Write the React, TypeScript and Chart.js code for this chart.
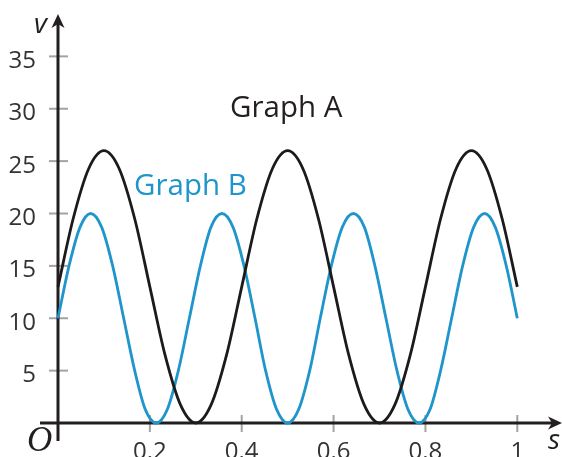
import React, { useEffect, useRef } from "react";
import { Chart, registerables } from "chart.js";

Chart.register(...registerables);

// Graph A readings (s, v)
const sA = [0, 0.033, 0.067, 0.1, 0.133, 0.167, 0.2, 0.233, 0.267, 0.3, 0.333, 0.367, 0.4, 0.433, 0.467, 0.5, 0.533, 0.567, 0.6, 0.633, 0.667, 0.7, 0.733, 0.767, 0.8, 0.833, 0.867, 0.9, 0.933, 0.967, 1];
const vA = [13, 19.5, 24.3, 26, 24.3, 19.5, 13, 6.5, 1.7, 0, 1.7, 6.5, 13, 19.5, 24.3, 26, 24.3, 19.5, 13, 6.5, 1.7, 0, 1.7, 6.5, 13, 19.5, 24.3, 26, 24.3, 19.5, 13];

// Graph B readings (s, v)
const sB = [0, 0.024, 0.048, 0.071, 0.095, 0.119, 0.143, 0.167, 0.19, 0.214, 0.238, 0.262, 0.286, 0.31, 0.333, 0.357, 0.381, 0.405, 0.429, 0.452, 0.476, 0.5, 0.524, 0.548, 0.571, 0.595, 0.619, 0.643, 0.667, 0.69, 0.714, 0.738, 0.762, 0.786, 0.81, 0.833, 0.857, 0.881, 0.905, 0.929, 0.952, 0.976, 1];
const vB = [10, 15, 18.7, 20, 18.7, 15, 10, 5, 1.3, 0, 1.3, 5, 10, 15, 18.7, 20, 18.7, 15, 10, 5, 1.3, 0, 1.3, 5, 10, 15, 18.7, 20, 18.7, 15, 10, 5, 1.3, 0, 1.3, 5, 10, 15, 18.7, 20, 18.7, 15, 10];

const yTicks = [5, 10, 15, 20, 25, 30, 35];
const xTicks = [0.2, 0.4, 0.6, 0.8, 1];
const xTickLabels = ["0.2", "0.4", "0.6", "0.8", "1"];

const BLUE = "#1f95cb";
const DARK = "#231f20";

const axesPlugin = {
  id: "customAxes",
  beforeDatasetsDraw(chart: any) {
    const ctx = chart.ctx;
    const xs = chart.scales.x;
    const ys = chart.scales.y;
    const x0 = xs.getPixelForValue(0);
    const y0 = ys.getPixelForValue(0);
    ctx.save();
    // tick marks
    ctx.strokeStyle = "#a3a3a3";
    ctx.lineWidth = 2;
    yTicks.forEach((t) => {
      const y = ys.getPixelForValue(t);
      ctx.beginPath();
      ctx.moveTo(x0 - 9, y);
      ctx.lineTo(x0 + 10, y);
      ctx.stroke();
    });
    xTicks.forEach((t) => {
      const x = xs.getPixelForValue(t);
      ctx.beginPath();
      ctx.moveTo(x, y0 - 8);
      ctx.lineTo(x, y0 + 9);
      ctx.stroke();
    });
    // axes
    ctx.strokeStyle = DARK;
    ctx.fillStyle = DARK;
    ctx.lineWidth = 3;
    ctx.beginPath();
    ctx.moveTo(x0, y0 + 18);
    ctx.lineTo(x0, 22);
    ctx.stroke();
    ctx.beginPath();
    ctx.moveTo(x0 - 18, y0);
    ctx.lineTo(554, y0);
    ctx.stroke();
    // arrowheads
    ctx.beginPath();
    ctx.moveTo(x0, 14);
    ctx.lineTo(x0 - 6.5, 28);
    ctx.lineTo(x0, 24);
    ctx.lineTo(x0 + 6.5, 28);
    ctx.closePath();
    ctx.fill();
    ctx.beginPath();
    ctx.moveTo(562, y0);
    ctx.lineTo(548, y0 - 6.5);
    ctx.lineTo(552, y0);
    ctx.lineTo(548, y0 + 6.5);
    ctx.closePath();
    ctx.fill();

    // tick labels
    ctx.fillStyle = "#333333";
    ctx.font = "24px 'Open Sans'";
    ctx.textAlign = "right";
    ctx.textBaseline = "alphabetic";
    yTicks.forEach((t) => {
      const y = ys.getPixelForValue(t);
      ctx.fillText(String(t), x0 - 22, y + 11.5);
    });
    ctx.textAlign = "center";
    xTicks.forEach((t, i) => {
      const x = xs.getPixelForValue(t);
      ctx.fillText(xTickLabels[i], x, y0 + 36);
    });
    // axis names
    ctx.fillStyle = DARK;
    ctx.textAlign = "left";
    ctx.font = "italic 28px 'Open Sans'";
    ctx.fillText("v", 34, 33);
    ctx.fillText("s", 548, 449);
    ctx.font = "italic 35px 'Liberation Serif'";
    ctx.fillText("O", 27, 451);
    ctx.restore();
  },
  afterDraw(chart: any) {
    const ctx = chart.ctx;
    ctx.save();
    ctx.textAlign = "left";
    ctx.textBaseline = "alphabetic";
    ctx.font = "29.5px 'Open Sans'";
    ctx.fillStyle = DARK;
    ctx.fillText("Graph A", 230, 117);
    ctx.fillStyle = BLUE;
    ctx.fillText("Graph B", 134, 195);
    ctx.restore();
  },
};

export default function App() {
  const ref = useRef<HTMLCanvasElement | null>(null);
  useEffect(() => {
    if (!ref.current) return;
    const chart = new Chart(ref.current, {
      type: "line",
      data: {
        datasets: [
          {
            label: "Graph A",
            data: sA.map((s, i) => ({ x: s, y: vA[i] })),
            borderColor: "#1c1a1a",
            borderWidth: 2.8,
            pointRadius: 0,
            cubicInterpolationMode: "monotone",
            clip: false,
          } as any,
          {
            label: "Graph B",
            data: sB.map((s, i) => ({ x: s, y: vB[i] })),
            borderColor: BLUE,
            borderWidth: 2.8,
            pointRadius: 0,
            cubicInterpolationMode: "monotone",
            clip: false,
          } as any,
        ],
      },
      options: {
        animation: false,
        responsive: false,
        maintainAspectRatio: false,
        layout: { padding: { left: 58, right: 44.7, top: 4, bottom: 34 } },
        scales: {
          x: { type: "linear", min: 0, max: 1, display: false },
          y: { type: "linear", min: 0, max: 40, display: false },
        },
        plugins: { legend: { display: false }, tooltip: { enabled: false } },
      },
      plugins: [axesPlugin],
    });
    return () => chart.destroy();
  }, []);
  return (
    <div style={{ position: "fixed", left: 0, top: 0, width: 562, height: 457, background: "#fff" }}>
      <canvas ref={ref} width={562} height={457} style={{ width: 562, height: 457 }} />
    </div>
  );
}
